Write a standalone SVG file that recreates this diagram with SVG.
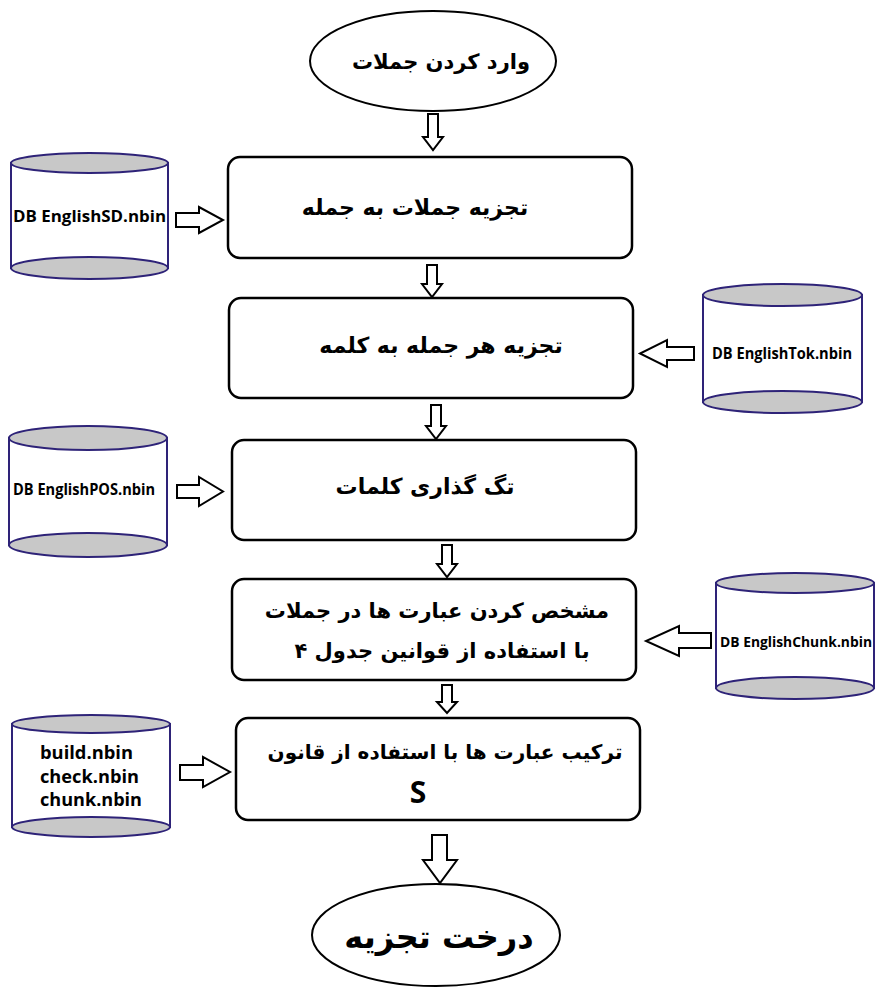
<svg xmlns="http://www.w3.org/2000/svg" width="883" height="988" viewBox="0 0 883 988">
<style>
.box{fill:#fff;stroke:#000;stroke-width:2.5}
.term{fill:#fff;stroke:#000;stroke-width:2}
.cylside{fill:#fff;stroke:#2e2378;stroke-width:2}
.cylcap{fill:#c8c8c8;stroke:#2e2378;stroke-width:2}
.arr{fill:#fff;stroke:#000;stroke-width:2;stroke-linejoin:miter}
.fa{font-family:"DejaVu Sans",sans-serif;font-weight:bold;font-size:21px;fill:#000;text-anchor:middle}
.en{font-family:"Open Sans","Liberation Sans",sans-serif;font-weight:bold;font-size:16px;fill:#000}
</style>
<rect width="883" height="988" fill="#fff"/>

<g id="start">
<ellipse class="term" cx="433" cy="61" rx="123" ry="50"/>
<text class="fa" x="441" y="69" direction="rtl">وارد کردن جملات</text>
</g>

<g id="step1">
<rect class="box" x="228" y="157" width="404" height="101" rx="12"/>
<text class="fa" x="415" y="215" direction="rtl" style="font-size:22px">تجزیه جملات به جمله</text>
</g>

<g id="step2">
<rect class="box" x="229" y="298" width="404" height="100" rx="12"/>
<text class="fa" x="441" y="353" direction="rtl" style="font-size:22px">تجزیه هر جمله به کلمه</text>
</g>

<g id="step3">
<rect class="box" x="232" y="440" width="404" height="100" rx="12"/>
<text class="fa" x="425" y="494" direction="rtl" style="font-size:22px">تگ گذاری کلمات</text>
</g>

<g id="step4">
<rect class="box" x="232" y="579" width="404" height="101" rx="12"/>
<text class="fa" x="437" y="618" direction="rtl">مشخص کردن عبارت ها در جملات</text>
<text class="fa" x="442" y="658" direction="rtl">با استفاده از قوانین جدول ۴</text>
</g>

<g id="step5">
<rect class="box" x="236" y="718" width="404" height="102" rx="12"/>
<text class="fa" x="445" y="759" direction="rtl" style="font-size:20px">ترکیب عبارت ها با استفاده از قانون</text>
<text x="418" y="803" style="font-family:'Open Sans','Liberation Sans',sans-serif;font-weight:bold;font-size:30px;text-anchor:middle">S</text>
</g>

<g id="end">
<ellipse class="term" cx="436" cy="935" rx="124" ry="51"/>
<text class="fa" x="439" y="948" direction="rtl" style="font-size:32px">درخت تجزیه</text>
</g>

<g id="db-sd">
<path class="cylside" d="M11,163 L11,268 L168,268 L168,163 Z"/>
<ellipse class="cylcap" cx="89.5" cy="268" rx="78.5" ry="11"/>
<ellipse class="cylcap" cx="89.5" cy="163" rx="78.5" ry="10"/>
<text class="en" x="13" y="222" textLength="153" lengthAdjust="spacingAndGlyphs">DB EnglishSD.nbin</text>
</g>

<g id="db-tok">
<path class="cylside" d="M703,295 L703,402 L862,402 L862,295 Z"/>
<ellipse class="cylcap" cx="782.5" cy="402" rx="79.5" ry="11"/>
<ellipse class="cylcap" cx="782.5" cy="295" rx="79.5" ry="11"/>
<text class="en" x="712" y="359" textLength="140" lengthAdjust="spacingAndGlyphs">DB EnglishTok.nbin</text>
</g>

<g id="db-pos">
<path class="cylside" d="M9,438 L9,545 L167,545 L167,438 Z"/>
<ellipse class="cylcap" cx="88" cy="545" rx="79" ry="12"/>
<ellipse class="cylcap" cx="88" cy="438" rx="79" ry="12"/>
<text class="en" x="13" y="495" textLength="142" lengthAdjust="spacingAndGlyphs">DB EnglishPOS.nbin</text>
</g>

<g id="db-chunk">
<path class="cylside" d="M716,583 L716,688 L874,688 L874,583 Z"/>
<ellipse class="cylcap" cx="795" cy="688" rx="79" ry="11"/>
<ellipse class="cylcap" cx="795" cy="583" rx="79" ry="10"/>
<text class="en" x="720" y="647" textLength="152" lengthAdjust="spacingAndGlyphs" style="font-size:14.5px">DB EnglishChunk.nbin</text>
</g>

<g id="db-rules">
<path class="cylside" d="M12,724 L12,827 L170,827 L170,724 Z"/>
<ellipse class="cylcap" cx="91" cy="827" rx="79" ry="10"/>
<ellipse class="cylcap" cx="91" cy="724" rx="79" ry="9"/>
<text class="en" x="40" y="759" textLength="93" lengthAdjust="spacingAndGlyphs" style="font-size:17px">build.nbin</text>
<text class="en" x="40" y="783" textLength="99" lengthAdjust="spacingAndGlyphs" style="font-size:17px">check.nbin</text>
<text class="en" x="40" y="806" textLength="102" lengthAdjust="spacingAndGlyphs" style="font-size:17px">chunk.nbin</text>
</g>

<g id="connectors">
<path class="arr" d="M428,114 L438,114 L438,137 L443,137 L433,150 L423,137 L428,137 Z"/>
<path class="arr" d="M427,265 L437,265 L437,284 L442,284 L432,297 L422,284 L427,284 Z"/>
<path class="arr" d="M431,405 L441,405 L441,426 L446,426 L436,439 L426,426 L431,426 Z"/>
<path class="arr" d="M442,545 L452,545 L452,564 L457,564 L447,577 L437,564 L442,564 Z"/>
<path class="arr" d="M442,685 L452,685 L452,702 L457,702 L447,713 L437,702 L442,702 Z"/>
<path class="arr" d="M432,835 L447,835 L447,860 L457,860 L440,883 L423,860 L432,860 Z"/>
<path class="arr" d="M176,213 L199,213 L199,207 L223,220 L199,233 L199,227 L176,227 Z"/>
<path class="arr" d="M177,485 L199,485 L199,477 L223,491.5 L199,506 L199,498 L177,498 Z"/>
<path class="arr" d="M180,765 L203,765 L203,757 L230,772 L203,787 L203,780 L180,780 Z"/>
<path class="arr" d="M694,347 L667,347 L667,340 L640,353.5 L667,367 L667,360 L694,360 Z"/>
<path class="arr" d="M711,633 L679,633 L679,626 L646,641 L679,656 L679,648 L711,648 Z"/>
</g>
</svg>
